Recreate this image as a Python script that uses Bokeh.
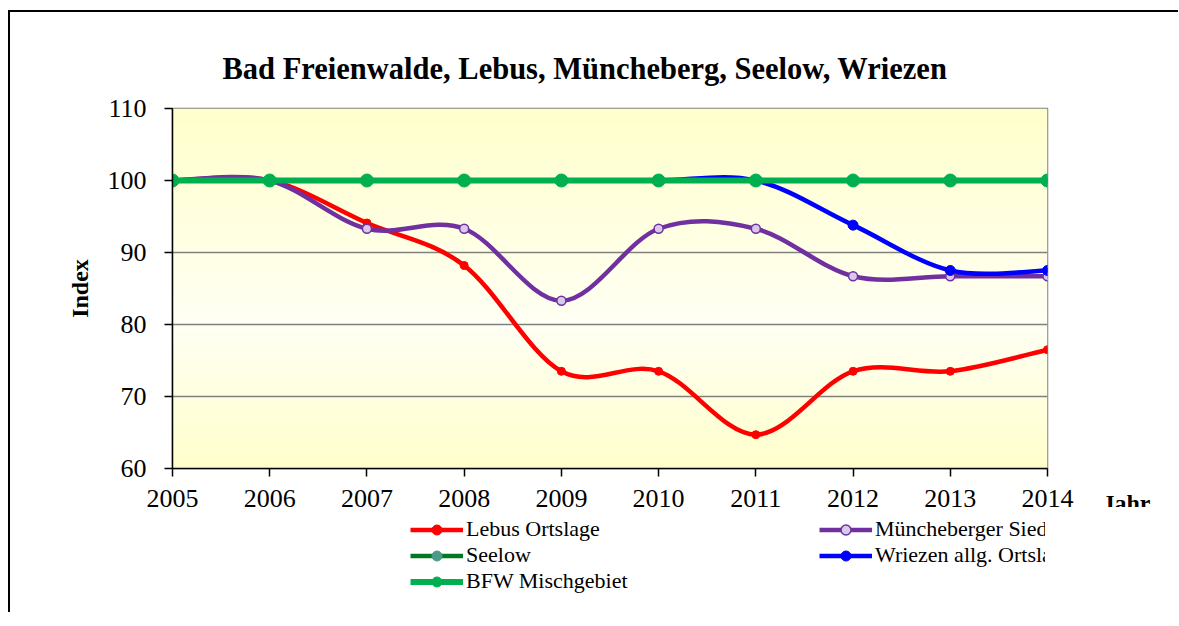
import numpy as np
from bokeh.plotting import figure
from bokeh.layouts import column
from bokeh.models import (ColumnDataSource, Legend, LegendItem, Title, Range1d,
                          FixedTicker)
from bokeh.embed import file_html
from bokeh.resources import INLINE

# ---------------- data ----------------
years = [2005, 2006, 2007, 2008, 2009, 2010, 2011, 2012, 2013, 2014]
lebus = [100, 100, 94.1, 88.2, 73.5, 73.5, 64.7, 73.5, 73.5, 76.5]
muencheberg = [100, 100, 93.3, 93.3, 83.3, 93.3, 93.3, 86.7, 86.7, 86.7]
seelow = [100, 100, 100, 100, 100, 100, 100, 100, 100, 100]
wriezen = [100, 100, 100, 100, 100, 100, 100, 93.8, 87.5, 87.5]
bfw = [100, 100, 100, 100, 100, 100, 100, 100, 100, 100]
y_ticks = [60, 70, 80, 90, 100, 110]

title_text = "Bad Freienwalde, Lebus, Müncheberg, Seelow, Wriezen"
y_label = "Index"
x_label = "Jahr"

SERIF = "Liberation Serif"


def smooth_source(xs, ys):
    """Excel-like smoothed line: cubic Bezier segments (Catmull-Rom control points)."""
    x = np.asarray(xs, float)
    y = np.asarray(ys, float)
    n = len(x)
    xp = np.concatenate([[x[0]], x, [x[-1]]])
    yp = np.concatenate([[y[0]], y, [y[-1]]])
    return ColumnDataSource(dict(
        x0=x[:-1], y0=y[:-1], x1=x[1:], y1=y[1:],
        cx0=xp[1:n] + (xp[2:n + 1] - xp[0:n - 1]) / 6.0,
        cy0=yp[1:n] + (yp[2:n + 1] - yp[0:n - 1]) / 6.0,
        cx1=xp[2:n + 1] - (xp[3:n + 2] - xp[1:n]) / 6.0,
        cy1=yp[2:n + 1] - (yp[3:n + 2] - yp[1:n]) / 6.0,
    ))


# ---------------- main chart ----------------
p = figure(frame_width=873, frame_height=358,
           x_range=Range1d(years[0], years[-1]),
           y_range=Range1d(y_ticks[0], y_ticks[-1]),
           output_backend="svg", toolbar_location=None,
           min_border_left=162, min_border_right=133,
           min_border_top=96, min_border_bottom=0)
p.styles = {"border-left": "2px solid black", "border-top": "2px solid black"}
p.margin = (10, 0, 0, 8)
p.background_fill_color = "white"
p.border_fill_color = "white"
p.outline_line_color = "#808080"
p.outline_line_width = 1.5

# gradient plot area (yellow at edges, lighter in the middle)
n_rows = 200
f = np.linspace(0, 1, n_rows)
light = 1 - np.abs(f - 0.4) / np.where(f < 0.4, 0.4, 0.6)
b = (204 + light * 40).astype(np.uint32)
img = np.empty((n_rows, 1), dtype=np.uint32)
view = img.view(dtype=np.uint8).reshape((n_rows, 1, 4))
view[:, 0, 0] = 255
view[:, 0, 1] = 255
view[:, 0, 2] = b
view[:, 0, 3] = 255
p.image_rgba(image=[img], x=years[0], y=y_ticks[0],
             dw=years[-1] - years[0], dh=y_ticks[-1] - y_ticks[0], level="image")

# grid / axes
p.xgrid.visible = False
p.ygrid.grid_line_color = "#808080"
p.ygrid.grid_line_width = 1.5
p.xaxis.ticker = FixedTicker(ticks=years)
p.yaxis.ticker = FixedTicker(ticks=y_ticks)
for ax in (p.xaxis[0], p.yaxis[0]):
    ax.axis_line_color = "black"
    ax.axis_line_width = 1.5
    ax.major_tick_line_color = "black"
    ax.major_tick_line_width = 1.5
    ax.major_tick_out = 8
    ax.major_tick_in = 0
    ax.minor_tick_line_color = None
    ax.major_label_text_font = SERIF
    ax.major_label_text_font_size = "26px"
    ax.major_label_text_color = "black"
p.yaxis.major_label_standoff = 18
p.xaxis.major_label_standoff = 13
p.yaxis.axis_label = y_label
p.yaxis.axis_label_text_font = SERIF
p.yaxis.axis_label_text_font_style = "bold"
p.yaxis.axis_label_text_font_size = "24px"
p.yaxis.axis_label_text_color = "black"
p.yaxis.axis_label_standoff = 12

# title
p.title.text = title_text
p.title.text_font = SERIF
p.title.text_font_style = "bold"
p.title.text_font_size = "30.5px"
p.title.text_color = "black"
p.title.align = "left"
p.title.offset = 50
p.title.standoff = 46

# "Jahr" right of the x tick labels
p.add_layout(Title(text=x_label, align="right", offset=-103, standoff=-40,
                   vertical_align="top", text_font=SERIF,
                   text_font_style="bold", text_font_size="24px",
                   text_color="black"), "below")

# series
series = [
    ("Lebus Ortslage", lebus, dict(line_color="#FF0000", line_width=4.5),
     dict(marker="circle", size=8, fill_color="#FF0000", line_color="#FF0000")),
    ("Müncheberger Siedlung", muencheberg, dict(line_color="#7030A0", line_width=4.5),
     dict(marker="circle", size=9, fill_color="#D8C8EC", line_color="#7030A0", line_width=1.5)),
    ("Seelow", seelow, dict(line_color="#007A22", line_width=4.5),
     dict(marker="circle", size=9, fill_color="#4A9A8A", line_color="#4A9A8A")),
    ("Wriezen allg. Ortslage", wriezen, dict(line_color="#0000FF", line_width=4.5),
     dict(marker="circle", size=10, fill_color="#0000FF", line_color="#0000FF")),
    ("BFW Mischgebiet", bfw, dict(line_color="#00B050", line_width=6),
     dict(marker="circle", size=13, fill_color="#00B050", line_color="#00B050")),
]

for name, vals, lstyle, mstyle in series:
    src = smooth_source(years, vals)
    p.bezier(x0="x0", y0="y0", x1="x1", y1="y1", cx0="cx0", cy0="cy0",
             cx1="cx1", cy1="cy1", source=src, line_cap="round", **lstyle)
    p.scatter(x=years, y=vals, **mstyle)

# ---------------- legend strip (own figure, legend inside its frame) ----------------
LEG_H = 105
p2 = figure(width=1168, height=LEG_H, x_range=Range1d(0, 1), y_range=Range1d(0, 1),
            output_backend="svg", toolbar_location=None,
            x_axis_location=None, y_axis_location=None,
            min_border=0, min_border_left=0, min_border_right=0,
            min_border_top=0, min_border_bottom=0)
p2.styles = {"border-left": "2px solid black"}
p2.margin = (0, 0, 0, 8)
p2.grid.visible = False
p2.outline_line_color = None
p2.background_fill_color = "white"
p2.border_fill_color = "white"

items = []
for name, vals, lstyle, mstyle in series:
    # legend proxies: same series, lying outside this strip's 0..1 view
    rl = p2.line(x=years, y=vals, **lstyle)
    rm = p2.scatter(x=years, y=vals, **mstyle)
    items.append(LegendItem(label=name, renderers=[rl, rm]))

row_h = 25
leg_h = 3 * row_h
lg = Legend(items=items, location=(238, LEG_H - 12 - leg_h),
            orientation="horizontal", ncols=2,
            glyph_width=53, glyph_height=row_h, label_height=row_h, label_width=353,
            label_standoff=3, spacing=0, padding=0, margin=0,
            border_line_color=None, background_fill_alpha=0,
            label_text_font=SERIF, label_text_font_size="22px",
            label_text_color="black")
p2.add_layout(lg, "center")

layout = column(p, p2, spacing=0)
open("out.html", "w").write(file_html(layout, INLINE))
